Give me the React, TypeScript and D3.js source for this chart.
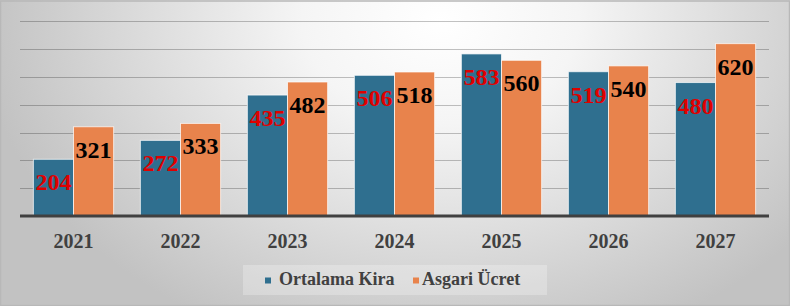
import React from "react";
import * as d3 from "d3";

const years = ["2021", "2022", "2023", "2024", "2025", "2026", "2027"];
const ortalamaKira = [204, 272, 435, 506, 583, 519, 480];
const asgariUcret = [321, 333, 482, 518, 560, 540, 620];
const seriesNames = ["Ortalama Kira", "Asgari Ücret"];
const yTicks = [100, 200, 300, 400, 500, 600, 700];

const W = 790;
const H = 306;
const COLORS = ["#2f6f8f", "#e8834c"];
const LABEL_COLORS = ["#e00000", "#000000"];
const FONT = "'Liberation Serif', 'Times New Roman', serif";

export default function App() {
  const x = d3.scaleBand<string>().domain(years).range([20, 769]).paddingInner(0.25).paddingOuter(0.125);
  const xi = d3.scaleBand<number>().domain([0, 1]).range([0, x.bandwidth()]);
  const y = d3.scaleLinear().domain([0, 700]).range([216, 21.4]);
  const series = [ortalamaKira, asgariUcret];

  return (
    <div style={{ position: "absolute", left: 0, top: 0 }}>
      <svg width={W} height={H} style={{ display: "block" }}>
        <defs>
          <radialGradient id="bg" gradientUnits="userSpaceOnUse" cx={440} cy={20} r={460}
            gradientTransform="translate(440 20) scale(1 0.75) translate(-440 -20)">
            <stop offset="0" stopColor="#ffffff" />
            <stop offset="0.3" stopColor="#f5f5f5" />
            <stop offset="1" stopColor="#c2c2c2" />
          </radialGradient>
        </defs>
        <rect x={0} y={0} width={W} height={H} fill="url(#bg)" />
        <rect x={0.5} y={1} width={W - 1} height={H - 1.5} fill="none" stroke="#b8b8b8" strokeWidth={1.5} />
        {yTicks.map((t) => (
          <line key={t} x1={20} x2={769} y1={Math.round(y(t)) + 0.5} y2={Math.round(y(t)) + 0.5}
            stroke="rgba(0,0,0,0.24)" strokeWidth={1} />
        ))}
        {years.map((yr, i) => (
          <g key={yr} transform={`translate(${x(yr)},0)`}>
            {series.map((s, j) => (
              <rect key={j} x={xi(j)} y={y(s[i])} width={xi.bandwidth()} height={y(0) - y(s[i])}
                fill={COLORS[j]} stroke="rgba(255,255,255,0.7)" strokeWidth={1} />
            ))}
            {series.map((s, j) => (
              <text key={"t" + j} x={(xi(j) as number) + xi.bandwidth() / 2} y={y(s[i]) + 31}
                textAnchor="middle" fontFamily={FONT} fontWeight="bold" fontSize={24}
                fill={LABEL_COLORS[j]}>{s[i]}</text>
            ))}
            <text x={x.bandwidth() / 2} y={248} textAnchor="middle" fontFamily={FONT}
              fontWeight="bold" fontSize={20} fill="#404040">{yr}</text>
          </g>
        ))}
        <line x1={20} x2={769} y1={216} y2={216} stroke="#404040" strokeWidth={3} />
        <rect x={243} y={265} width={304} height={30} fill="rgba(255,255,255,0.25)" />
        <rect x={265} y={277.5} width={6} height={6} fill={COLORS[0]} />
        <text x={279} y={285} fontFamily={FONT} fontWeight="bold" fontSize={18} fill="#404040">{seriesNames[0]}</text>
        <rect x={413} y={277.5} width={6} height={6} fill={COLORS[1]} />
        <text x={422} y={285} fontFamily={FONT} fontWeight="bold" fontSize={18} fill="#404040">{seriesNames[1]}</text>
      </svg>
    </div>
  );
}
